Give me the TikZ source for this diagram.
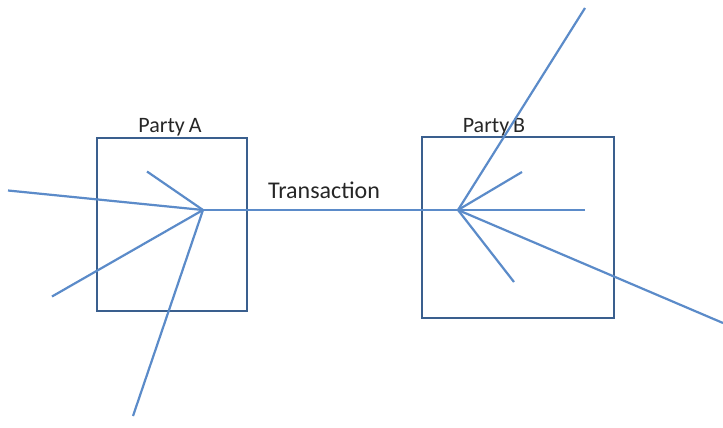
\documentclass[tikz,border=0pt]{standalone}
\usepackage{fontspec}
\setmainfont{Carlito}
\definecolor{boxblue}{HTML}{3A5F8E}
\definecolor{lineblue}{HTML}{5B8BC9}
\definecolor{txt}{HTML}{262626}
\begin{document}
\begin{tikzpicture}[x=1pt,y=-1pt,
  party/.style={draw=boxblue,line width=2pt,inner sep=0pt},
  link/.style={draw=lineblue,line width=2.2pt},
  lbl/.style={text=txt,font=\fontsize{22}{26}\selectfont,inner sep=0pt}]
\useasboundingbox (0,0) rectangle (723,428);
\node[party,minimum width=150pt,minimum height=173pt] (boxA) at (172,224) {};
\node[party,minimum width=192pt,minimum height=181pt] (boxB) at (517.5,227.5) {};
\node[lbl] (labA) at (170,127) {Party\kern-1pt\ A};
\node[lbl] (labB) at (494,127) {Party\kern-1pt\ B};
\coordinate (hubA) at (203,210);
\coordinate (hubB) at (458,210);
\node[lbl,font=\fontsize{24}{28}\selectfont] (trans) at (324,190) {Transaction};
\coordinate (a1) at (8,190.5);
\coordinate (a2) at (147,171.5);
\coordinate (a3) at (52,296.5);
\coordinate (a4) at (133,416);
\coordinate (b1) at (585,8);
\coordinate (b2) at (522,172);
\coordinate (b3) at (585,210);
\coordinate (b4) at (514,282);
\coordinate (b5) at (723,323);
\draw[link] (a1) -- (hubA);
\draw[link] (a2) -- (hubA);
\draw[link] (a3) -- (hubA);
\draw[link] (a4) -- (hubA);
\draw[link] (hubA) -- (hubB);
\draw[link] (b1) -- (hubB);
\draw[link] (b2) -- (hubB);
\draw[link] (b3) -- (hubB);
\draw[link] (b4) -- (hubB);
\draw[link] (b5) -- (hubB);
\end{tikzpicture}
\end{document}
